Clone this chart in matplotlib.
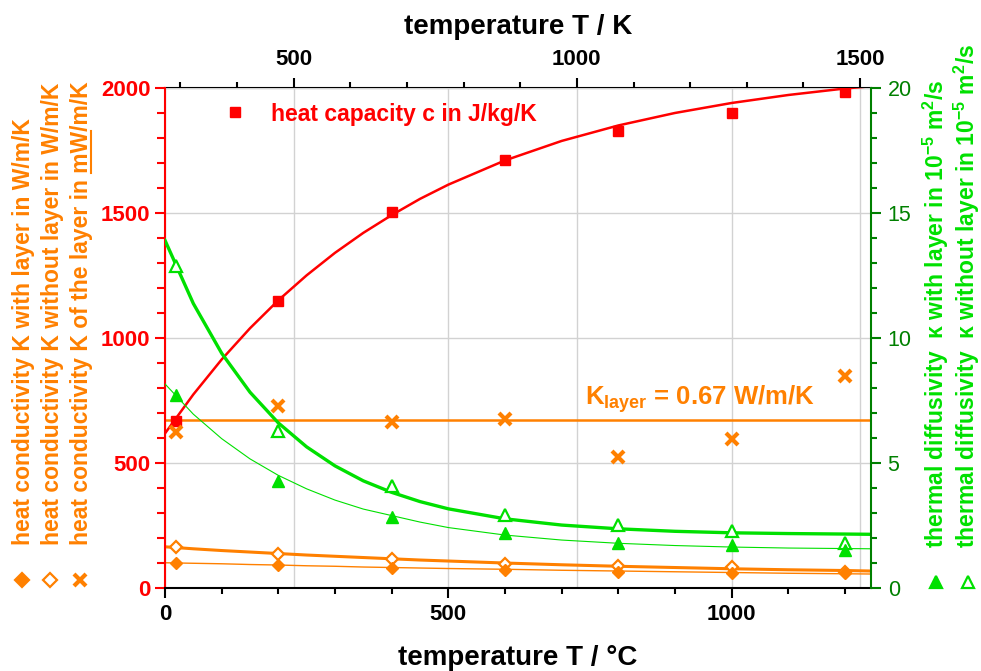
import matplotlib
matplotlib.use('Agg')
import matplotlib.pyplot as plt
from matplotlib.ticker import MultipleLocator
from matplotlib.lines import Line2D

plt.rcParams['font.family'] = ['Liberation Sans', 'DejaVu Sans']
plt.rcParams['font.weight'] = 'bold'
plt.rcParams['axes.labelweight'] = 'bold'
plt.rcParams['mathtext.fontset'] = 'custom'
plt.rcParams['mathtext.rm'] = 'Liberation Sans:bold'
plt.rcParams['mathtext.bf'] = 'Liberation Sans:bold'
plt.rcParams['mathtext.it'] = 'Liberation Sans:bold'
plt.rcParams['mathtext.default'] = 'bf'

RED = '#ff0000'
ORANGE = '#ff8000'
GREEN = '#00e000'
DGREEN = '#008000'
GRID = '#d2d2d2'

# measured points (temperature in deg C)
t_meas = [20, 200, 400, 600, 800, 1000, 1200]
c_meas = [665, 1148, 1502, 1710, 1826, 1899, 1983]            # J/kg/K
k_with = [97, 91, 77, 70, 62, 60, 58]                          # left axis units
k_without = [161, 135, 115, 94, 87, 82, 64]
k_layer = [621, 728, 661, 675, 524, 595, 848]                  # mW/m/K
a_with = [7.72, 4.25, 2.84, 2.17, 1.77, 1.70, 1.50]            # 1e-5 m^2/s
a_without = [12.88, 6.28, 4.07, 2.92, 2.50, 2.26, 1.79]

# fitted curves
t_fit = [0, 50, 100, 150, 200, 250, 300, 350, 400, 450, 500, 600, 700, 800, 900, 1000, 1100, 1200, 1246]
c_fit = [617, 773, 913, 1038, 1150, 1250, 1340, 1420, 1491, 1556, 1613, 1710, 1788, 1850, 1900, 1940, 1972, 1998, 2007]
a_without_fit = [13.9, 11.37, 9.38, 7.82, 6.59, 5.63, 4.87, 4.27, 3.81, 3.44, 3.15, 2.75, 2.50, 2.35, 2.25, 2.19, 2.16, 2.14, 2.13]
a_with_fit = [8.15, 6.94, 5.96, 5.15, 4.49, 3.95, 3.50, 3.14, 2.88, 2.62, 2.40, 2.10, 1.90, 1.77, 1.68, 1.62, 1.58, 1.56, 1.55]
k_without_fit = [163, 155, 148, 142, 136, 130, 125, 120, 115, 110, 106, 98, 91, 85, 80, 75, 71, 68, 66]
k_with_fit = [99, 97, 95, 92, 90, 87, 85, 82, 80, 78, 76, 73, 69, 66, 63, 60, 57, 55, 54]
k_layer_mean = 670

top_ticks = [500, 1000, 1500]   # K

W, H = 981, 671
fig = plt.figure(figsize=(W / 100, H / 100), dpi=100)
ax = fig.add_axes([165 / W, 1 - 587.5 / H, 706 / W, 499.5 / H])
axr = ax.twinx()

ax.set_xlim(0, 1246)
ax.set_ylim(0, 2000)
axr.set_ylim(0, 20)

# grid
ax.set_axisbelow(True)
ax.grid(True, which='major', color=GRID, lw=1)
for k in top_ticks:
    ax.axvline(k - 273.15, color=GRID, lw=1, zorder=0.5)

# curves
ax.plot(t_fit, c_fit, color=RED, lw=1.8)
ax.axhline(k_layer_mean, color=ORANGE, lw=1.8)
ax.plot(t_fit, k_without_fit, color=ORANGE, lw=2.2)
ax.plot(t_fit, k_with_fit, color=ORANGE, lw=1.0)
axr.plot(t_fit, a_without_fit, color=GREEN, lw=2.4)
axr.plot(t_fit, a_with_fit, color=GREEN, lw=0.8)

# points
h_c, = ax.plot(t_meas, c_meas, 's', color=RED, ms=7, label='heat capacity c in J/kg/K')
ax.plot(t_meas, k_layer, 'x', color=ORANGE, ms=9, mew=3)
ax.plot(t_meas, k_without, 'D', color=ORANGE, mfc='white', ms=6.5, mew=1.6)
ax.plot(t_meas, k_with, 'D', color=ORANGE, ms=6.5)
axr.plot(t_meas, a_without, '^', color=GREEN, mfc='white', ms=8, mew=1.6)
axr.plot(t_meas, a_with, '^', color=GREEN, ms=8)

ax.text(741, 730, r'$K_{layer}$ = 0.67 W/m/K', color=ORANGE, fontsize=18.5, va='baseline')

ax.legend(handles=[h_c], loc='center left', bbox_to_anchor=((226 - 165) / 706, (587.5 - 114) / 499.5),
          frameon=False, fontsize=16.5, handlelength=0.8, handletextpad=1.15,
          borderpad=0, borderaxespad=0, labelcolor=RED, numpoints=1)

# axes styling
ax.xaxis.set_major_locator(MultipleLocator(500))
ax.xaxis.set_minor_locator(MultipleLocator(100))
ax.yaxis.set_major_locator(MultipleLocator(500))
ax.yaxis.set_minor_locator(MultipleLocator(100))
ax.tick_params(axis='x', which='major', length=7, width=1.5, labelsize=16, pad=5)
ax.tick_params(axis='x', which='minor', length=4, width=1.5)
ax.tick_params(axis='y', which='both', colors=RED, labelsize=16, width=1.5, pad=3.5)
ax.tick_params(axis='y', which='major', length=7)
ax.tick_params(axis='y', which='minor', length=6)
ax.spines['left'].set_color(RED)
ax.spines['right'].set_visible(False)
ax.spines['top'].set_visible(False)
for s in ['left', 'bottom']:
    ax.spines[s].set_linewidth(1.5)

axr.set_yticks([0, 5, 10, 15, 20], labels=['0', '5', '10', '15', '20'], fontweight='normal')
axr.yaxis.set_minor_locator(MultipleLocator(1))
axr.tick_params(axis='y', which='both', colors=DGREEN, labelsize=15.5, width=1.5, pad=5)
axr.tick_params(axis='y', which='major', length=7)
axr.tick_params(axis='y', which='minor', length=4)
for s in ['left', 'top', 'bottom']:
    axr.spines[s].set_visible(False)
axr.spines['right'].set_color(DGREEN)
axr.spines['right'].set_linewidth(1.5)

sec = ax.secondary_xaxis('top', functions=(lambda c: c + 273.15, lambda k: k - 273.15))
sec.set_xticks(top_ticks)
sec.xaxis.set_minor_locator(MultipleLocator(100))
sec.tick_params(which='major', length=7, width=1.5, labelsize=16, pad=6)
sec.tick_params(which='minor', length=4, width=1.5)
sec.spines['top'].set_linewidth(1.5)
sec.set_xlabel('temperature T / K', fontsize=20, fontweight='bold', labelpad=11)
ax.set_xlabel('temperature T / °C', fontsize=20, fontweight='bold', labelpad=14)

# side labels
fs = 16.5
left_labels = ['heat conductivity K with layer in W/m/K',
               'heat conductivity K without layer in W/m/K',
               'heat conductivity K of the layer in mW/m/K']
left_x = [30, 59.3, 88.3]
for s, x in zip(left_labels, left_x):
    fig.text(x / W, 1 - 545 / H, s, color=ORANGE, fontsize=fs, rotation=90,
             rotation_mode='anchor', ha='left', va='baseline')

right_labels = [r'thermal diffusivity  κ with layer in 10$^{-5}$ m$^2$/s',
                r'thermal diffusivity  κ without layer in 10$^{-5}$ m$^2$/s']
right_x = [944, 975]
for s, x in zip(right_labels, right_x):
    fig.text(x / W, 1 - 548 / H, s, color=GREEN, fontsize=fs, rotation=90,
             rotation_mode='anchor', ha='left', va='baseline')

# legend keys under the side labels
keys = [(21.7, 'D', ORANGE, ORANGE, 7), (50, 'D', ORANGE, 'white', 7), (80, 'x', ORANGE, ORANGE, 9)]
for x, m, ec, fc, ms in keys:
    fig.add_artist(Line2D([x / W], [1 - 580 / H], marker=m, color=ec, mfc=fc, ms=ms,
                          mew=3 if m == 'x' else 1.6, transform=fig.transFigure))
for x, fc in [(936, GREEN), (968, 'white')]:
    fig.add_artist(Line2D([x / W], [1 - 581.5 / H], marker='^', color=GREEN, mfc=fc, ms=8,
                          mew=1.6, transform=fig.transFigure))

# underline "mW" in the third label
fig.canvas.draw()
r = fig.canvas.get_renderer()
def width(s):
    t = fig.text(0, 0, s, fontsize=fs)
    w = t.get_window_extent(renderer=r).width
    t.remove()
    return w
w_full = width(left_labels[2])
w_m = width('mW/m/K')
w_s = width('/m/K')
y0 = H - 545
fig.add_artist(Line2D([(left_x[2] + 3) / W] * 2,
                      [(y0 + w_full - w_m) / H, (y0 + w_full - w_s) / H],
                      color=ORANGE, lw=1.5, transform=fig.transFigure))

fig.savefig('out.png', dpi=100)
